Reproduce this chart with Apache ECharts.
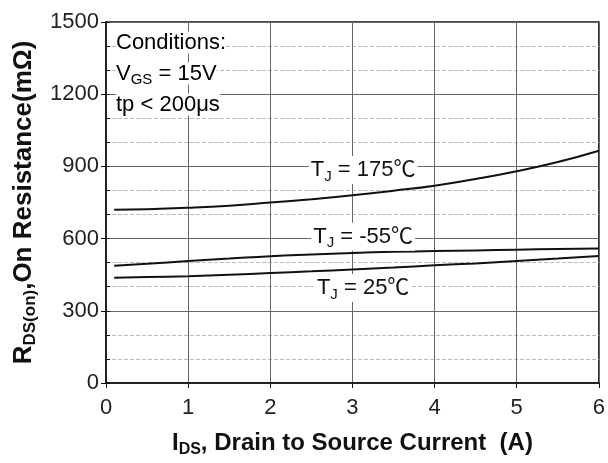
<!DOCTYPE html>
<html>
<head>
<meta charset="utf-8">
<script src="https://cdn.jsdelivr.net/npm/echarts@6/dist/echarts.min.js"></script>
<style>
  html, body { margin: 0; padding: 0; background: #fff; }
  #chart { width: 608px; height: 463px; }
</style>
</head>
<body>
<div id="chart"></div>
<script>
// drain current (A)
var current = [0.1, 0.5, 1, 1.5, 2, 2.5, 3, 3.5, 4, 4.5, 5, 5.5, 6];
// on resistance (mOhm) per junction temperature
var rTj175 = [720, 722, 728, 737, 750, 764, 780, 799, 820, 848, 880, 918, 965];
var rTjM55 = [487, 495, 507, 517, 527, 534, 540, 545, 548, 551, 554, 557, 559];
var rTj25 = [437, 440, 444, 450, 457, 464, 472, 480, 489, 497, 507, 517, 528];

var curveNames = ['175', '-55', '25'];
var labelPos = [[3.13, 885], [3.13, 608], [3.13, 395]];

var font = 'Liberation Sans, Arial, Noto Sans CJK SC';

function pairs(ys) {
  return current.map(function (x, i) { return [x, ys[i]]; });
}

var rich = {
  n: { fontSize: 22, fontFamily: font, color: '#111' },
  s: { fontSize: 15, fontFamily: font, color: '#111', padding: [13, 0, 0, 0] }
};

function curve(name, ys, pos) {
  return {
    type: 'line',
    name: name,
    data: pairs(ys),
    smooth: true,
    symbol: 'none',
    lineStyle: { color: '#111', width: 2 },
    markPoint: {
      symbol: 'rect',
      symbolSize: 1,
      itemStyle: { color: 'rgba(0,0,0,0)' },
      data: [{
        coord: pos,
        label: {
          show: true,
          position: 'inside',
          formatter: '{n|T}{s|J}{n| = ' + name + '℃}',
          backgroundColor: '#fff',
          padding: [0, 2, 0, 2],
          rich: rich
        }
      }]
    }
  };
}

var titleRich = {
  b: { fontSize: 24, fontWeight: 'bold', fontFamily: font, color: '#111' },
  bs: { fontSize: 16, fontWeight: 'bold', fontFamily: font, color: '#111', padding: [13, 0, 0, 0] }
};
var yTitleRich = {
  b: { fontSize: 26, fontWeight: 'bold', fontFamily: font, color: '#111' },
  bs: { fontSize: 17, fontWeight: 'bold', fontFamily: font, color: '#111', padding: [14, 0, 0, 0] }
};

var chart = echarts.init(document.getElementById('chart'));
chart.setOption({
  animation: false,
  grid: {
    left: 106, right: 5, top: 22, bottom: 76,
    show: true, borderColor: '#111', borderWidth: 1.5
  },
  xAxis: {
    type: 'value', min: 0, max: 6, interval: 1,
    axisLine: { lineStyle: { color: '#111', width: 1.5 } },
    axisTick: { length: 5, lineStyle: { color: '#111' } },
    axisLabel: { fontSize: 22, color: '#222', fontFamily: font, margin: 14 },
    splitLine: { lineStyle: { color: '#666', width: 1 } },
    name: '{b|I}{bs|DS}{b|, Drain to Source Current  (A)}',
    nameLocation: 'middle',
    nameGap: 46,
    nameTextStyle: { rich: titleRich }
  },
  yAxis: [{
    type: 'value', min: 0, max: 1500, interval: 300,
    axisLine: { show: true, lineStyle: { color: '#111', width: 1.5 } },
    axisTick: { show: true, length: 5, lineStyle: { color: '#111' } },
    axisLabel: {
      fontSize: 22, color: '#222', fontFamily: font, margin: 7,
      formatter: function (v) { return String(v); }
    },
    splitLine: { lineStyle: { color: '#666', width: 1 } },
    minorTick: { show: false, splitNumber: 3 },
    minorSplitLine: { show: true, lineStyle: { color: '#bbb', type: 'dashed', width: 1 } },
    name: '{b|R}{bs|DS(on)}{b|,On Resistance(m\u03A9)}',
    nameLocation: 'middle',
    nameRotate: 90,
    nameGap: 66,
    nameTextStyle: { rich: yTitleRich }
  }, {
    type: 'value', min: 0, max: 1500, interval: 100, position: 'left',
    axisLine: { show: false },
    axisTick: { show: true, inside: true, length: 4, lineStyle: { color: '#111' } },
    axisLabel: { show: false },
    splitLine: { show: false }
  }],
  graphic: [{
    type: 'text', left: 116, top: 27, z: 100,
    style: {
      text: '{n|Conditions:}\n{n|V}{s|GS}{n| = 15V}\n{n|tp < 200\u03BCs}',
      lineHeight: 31,
      rich: {
        n: { fontSize: 22, fontFamily: font, color: '#111', lineHeight: 31, backgroundColor: '#fff' },
        s: { fontSize: 15, fontFamily: font, color: '#111', lineHeight: 31, padding: [12, 0, 0, 0], backgroundColor: '#fff' }
      }
    }
  }],
  series: [
    curve(curveNames[0], rTj175, labelPos[0]),
    curve(curveNames[1], rTjM55, labelPos[1]),
    curve(curveNames[2], rTj25, labelPos[2])
  ]
});
</script>
</body>
</html>
